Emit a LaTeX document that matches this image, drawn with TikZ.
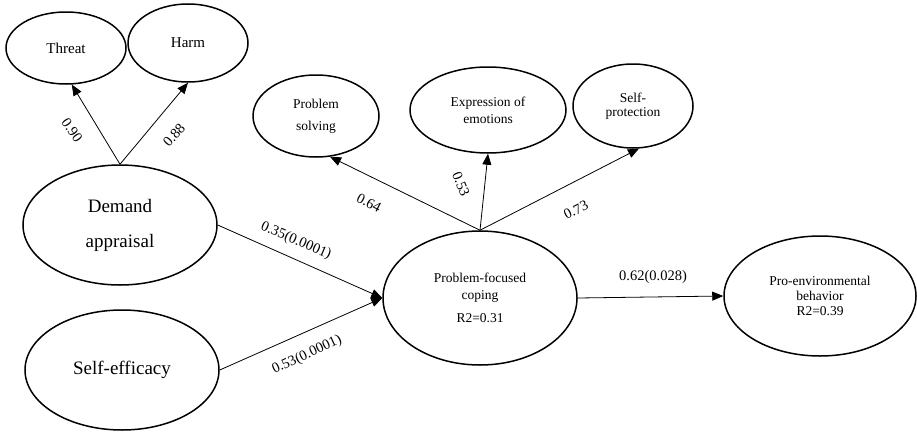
\documentclass[tikz,border=0pt]{standalone}
\usepackage{fontspec}
\setmainfont{Liberation Serif}
\usetikzlibrary{arrows.meta,shapes.geometric}
\begin{document}
\begin{tikzpicture}[x=1pt,y=-1pt,
  latent/.style={draw,ellipse,line width=1.5pt,inner sep=0pt,align=center},
  arr/.style={line width=0.8pt,-{Triangle[length=11pt,width=9pt]}},
  lab/.style={font=\fontsize{14.5}{16}\selectfont,inner sep=0pt}]
\useasboundingbox (0,0) rectangle (917,431);
% latent variables
\node[latent,minimum width=120pt,minimum height=72pt,font=\fontsize{15}{17}\selectfont] (threat) at (66,48) {Threat};
\node[latent,minimum width=120pt,minimum height=78pt,font=\fontsize{15}{17}\selectfont] (harm) at (188,43) {Harm};
\node[latent,minimum width=194pt,minimum height=120pt,font=\fontsize{19}{35}\selectfont] (demand) at (120,225) {Demand\\appraisal};
\node[latent,minimum width=194pt,minimum height=120pt,font=\fontsize{19}{22}\selectfont] (selfeff) at (122,370) {Self-efficacy};
\node[latent,minimum width=194pt,minimum height=134pt,font=\fontsize{13.5}{17}\selectfont] (coping) at (480,298) {Problem-focused\\coping\\[6pt]R2=0.31};
\node[latent,minimum width=192pt,minimum height=120pt,font=\fontsize{13.5}{15}\selectfont] (proenv) at (820,296) {Pro-environmental\\behavior\\R2=0.39};
\node[latent,minimum width=126pt,minimum height=82pt,font=\fontsize{13.5}{22}\selectfont] (psolve) at (316,116) {Problem\\solving};
\node[latent,minimum width=156pt,minimum height=86pt,font=\fontsize{13.5}{17}\selectfont] (expr) at (488,110) {Expression of\\emotions};
\node[latent,minimum width=120pt,minimum height=84pt,font=\fontsize{13.5}{14.5}\selectfont] (sprot) at (633,106) {Self-\\protection};
% connectors
\draw[arr] (demand.north) -- (threat.-81);
\draw[arr] (demand.north) -- (harm.south);
\draw[arr] (coping.north) -- (psolve.-71);
\draw[arr] (coping.north) -- (expr.south);
\draw[arr] (coping.north) -- (sprot.-82);
\draw[arr] (demand.east) -- (coping.west);
\draw[arr] (selfeff.east) -- (coping.west);
\draw[arr] (coping.east) -- (proenv.west);
% labels
\node[lab,rotate=-55] (l1) at (72,130) {0.90};
\node[lab,rotate=48] (l2) at (174,135) {0.88};
\node[lab,rotate=-27] (l3) at (369,203) {0.64};
\node[lab,rotate=-68] (l4) at (461,184) {0.53};
\node[lab,rotate=26] (l5) at (576,210) {0.73};
\node[lab,rotate=-23] (l6) at (296,241) {0.35(0.0001)};
\node[lab,rotate=25] (l7) at (307,355) {0.53(0.0001)};
\node[lab] (l8) at (653,277) {0.62(0.028)};
\end{tikzpicture}
\end{document}
